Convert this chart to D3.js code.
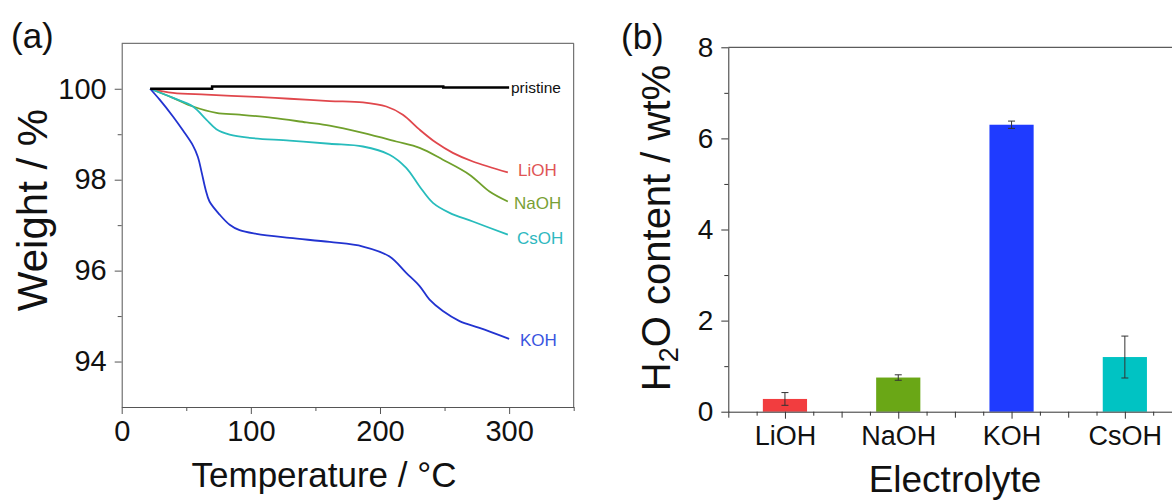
<!DOCTYPE html>
<html>
<head>
<meta charset="utf-8">
<script src="https://cdn.jsdelivr.net/npm/d3@7"></script>
<style>
  html, body { margin: 0; padding: 0; background: #fff; }
  svg { display: block; font-family: "Liberation Sans", Arial, sans-serif; }
</style>
</head>
<body>
<svg id="chart" width="1172" height="500"></svg>
<script>
// ---------- Panel (a): TGA curves (temperature °C, weight %) ----------
const pristine = [[22,100.0],[69,100.0],[70,100.05],[248,100.05],[249,100.03],[300,100.03]];
const lioh = [[22,100.0],[39.7,99.91],[65.5,99.87],[104.3,99.82],[130,99.78],[161,99.73],[186.8,99.70],[204.9,99.61],[217.7,99.43],[230.7,99.10],[243.6,98.81],[256.4,98.59],[271.9,98.40],[299,98.16]];
const naoh = [[22,100.0],[39.7,99.80],[55.2,99.61],[73.3,99.47],[91.3,99.43],[117,99.36],[143,99.26],[161,99.19],[186.8,99.03],[212.6,98.84],[230.7,98.70],[248.7,98.44],[269.3,98.11],[284.8,97.74],[299,97.52]];
const csoh = [[22,100.0],[39.7,99.80],[55.2,99.61],[65.5,99.32],[73.3,99.11],[83.6,98.99],[99,98.92],[130,98.86],[161,98.79],[186.8,98.73],[207.4,98.55],[220.3,98.26],[230.7,97.85],[241,97.49],[253.9,97.27],[271.9,97.08],[299,96.79]];
const koh = [[22,100.0],[29.4,99.76],[39.7,99.39],[47.5,99.08],[55.2,98.75],[59,98.50],[62,98.15],[65,97.78],[68,97.52],[75.9,97.23],[83.6,97.01],[91.3,96.89],[104.3,96.81],[130,96.72],[161,96.63],[186.8,96.53],[207.4,96.31],[220.3,95.95],[230.7,95.66],[238.4,95.36],[248.7,95.11],[261.6,94.89],[277,94.74],[300,94.50]];
const seriesNames = ["pristine","LiOH","NaOH","CsOH","KOH"];
const xTicksA = [0,100,200,300];
const yTicksA = [94,96,98,100];

// ---------- Panel (b): H2O content bars ----------
const electrolytes = ["LiOH","NaOH","KOH","CsOH"];
const h2oContent = [0.28, 0.75, 6.30, 1.20];
const h2oError = [0.14, 0.06, 0.08, 0.46];
const yTicksB = [0,2,4,6,8];

const svg = d3.select("#chart");
const axisColor = "#555";

// ================= Panel (a) =================
const xA = d3.scaleLinear().domain([0,350]).range([121.7,573.7]);
const yA = d3.scaleLinear().domain([93,101]).range([407,43.3]);
const gA = svg.append("g");

gA.append("line").attr("x1",xA(0)).attr("x2",xA(350)).attr("y1",yA(101)).attr("y2",yA(101)).attr("stroke",axisColor).attr("stroke-width",1);
gA.append("line").attr("x1",xA(350)).attr("x2",xA(350)).attr("y1",yA(101)).attr("y2",yA(93)).attr("stroke",axisColor).attr("stroke-width",1);

const axBA = gA.append("g").attr("transform",`translate(0,${yA(93)})`)
  .call(d3.axisBottom(xA).tickValues(xTicksA).tickSize(7).tickPadding(6).tickSizeOuter(0));
gA.append("g").attr("transform",`translate(0,${yA(93)})`)
  .call(d3.axisBottom(xA).tickValues([50,150,250,350]).tickSize(4).tickFormat("").tickSizeOuter(0))
  .call(g=>g.select(".domain").remove());
const axLA = gA.append("g").attr("transform",`translate(${xA(0)},0)`)
  .call(d3.axisLeft(yA).tickValues(yTicksA).tickSize(7).tickPadding(8).tickSizeOuter(0));
gA.append("g").attr("transform",`translate(${xA(0)},0)`)
  .call(d3.axisLeft(yA).tickValues([95,97,99]).tickSize(4).tickFormat("").tickSizeOuter(0))
  .call(g=>g.select(".domain").remove());

gA.selectAll(".domain, .tick line").attr("stroke",axisColor);
axBA.selectAll("text").attr("font-size",29).attr("fill","#111").attr("font-family","Liberation Sans, Arial");
axLA.selectAll("text").attr("font-size",29).attr("fill","#111").attr("font-family","Liberation Sans, Arial");

const lineA = d3.line().x(d=>xA(d[0])).y(d=>yA(d[1])).curve(d3.curveCatmullRom.alpha(0.5));
const curves = [
  {name:"LiOH", data:lioh, color:"#e0474c", label:"#e05555", w:1.8},
  {name:"NaOH", data:naoh, color:"#70a02c", label:"#78a035", w:1.8},
  {name:"CsOH", data:csoh, color:"#27bcbc", label:"#2fb8c0", w:1.8},
  {name:"KOH", data:koh, color:"#2233d0", label:"#3a55e0", w:1.8}
];
curves.forEach(c=>{
  gA.append("path").datum(c.data).attr("d",lineA).attr("fill","none").attr("stroke",c.color).attr("stroke-width",c.w);
});
gA.append("path").datum(pristine).attr("d",d3.line().x(d=>xA(d[0])).y(d=>yA(d[1])).curve(d3.curveStepAfter))
  .attr("fill","none").attr("stroke","#000").attr("stroke-width",2.5);

const labelPos = {pristine:[511,93], LiOH:[518,176], NaOH:[514,209], CsOH:[517,244], KOH:[520,346]};
gA.append("text").attr("x",labelPos.pristine[0]).attr("y",labelPos.pristine[1]).attr("font-size",15.5).attr("fill","#111").text(seriesNames[0]);
curves.forEach(c=>{
  gA.append("text").attr("x",labelPos[c.name][0]).attr("y",labelPos[c.name][1]).attr("font-size",17).attr("fill",c.label).text(c.name);
});

gA.append("text").attr("x",324).attr("y",487).attr("text-anchor","middle").attr("font-size",35).attr("fill","#111").text("Temperature / °C");
gA.append("text").attr("transform","translate(47,210) rotate(-90)").attr("text-anchor","middle").attr("font-size",42).attr("fill","#111").text("Weight / %");
gA.append("text").attr("x",11).attr("y",48).attr("font-size",35).attr("fill","#111").text("(a)");

// ================= Panel (b) =================
const xB = d3.scaleLinear().domain([0.5,4.5]).range([728.3,1181.5]);
const yB = d3.scaleLinear().domain([0,8]).range([411.7,47.3]);
const gB = svg.append("g");

gB.append("line").attr("x1",xB(0.5)).attr("x2",xB(4.5)).attr("y1",yB(8)).attr("y2",yB(8)).attr("stroke","#333").attr("stroke-width",1);

const bw = 0.39;
gB.selectAll("rect.bar").data(electrolytes).enter().append("rect")
  .attr("class","bar")
  .attr("x",(d,i)=>xB(i+1-bw/2))
  .attr("width",(d,i)=>xB(i+1+bw/2)-xB(i+1-bw/2))
  .attr("y",(d,i)=>yB(h2oContent[i]))
  .attr("height",(d,i)=>yB(0)-yB(h2oContent[i]))
  .attr("fill",(d,i)=>["#f23d3f","#6aa716","#1f3bff","#00c3c3"][i]);

electrolytes.forEach((d,i)=>{
  const cx = xB(i+1), hi = yB(h2oContent[i]+h2oError[i]), lo = yB(h2oContent[i]-h2oError[i]);
  gB.append("line").attr("x1",cx).attr("x2",cx).attr("y1",hi).attr("y2",lo).attr("stroke","#333").attr("stroke-width",1);
  [hi,lo].forEach(y=>gB.append("line").attr("x1",cx-3.5).attr("x2",cx+3.5).attr("y1",y).attr("y2",y).attr("stroke","#333").attr("stroke-width",1));
});

const axBB = gB.append("g").attr("transform",`translate(0,${yB(0)})`)
  .call(d3.axisBottom(xB).tickValues([1,2,3,4]).tickSize(7).tickPadding(7).tickSizeOuter(0).tickFormat((d)=>electrolytes[d-1]));
gB.append("g").attr("transform",`translate(0,${yB(0)})`)
  .call(d3.axisBottom(xB).tickValues([0.5,1.5,2.5,3.5]).tickSize(6).tickFormat("").tickSizeOuter(0))
  .call(g=>g.select(".domain").remove());
gB.append("g").attr("transform",`translate(0,${yB(0)})`)
  .call(d3.axisBottom(xB).tickValues([0.75,1.25,1.75,2.25,2.75,3.25,3.75,4.25]).tickSize(4).tickFormat("").tickSizeOuter(0))
  .call(g=>g.select(".domain").remove());
const axLB = gB.append("g").attr("transform",`translate(${xB(0.5)},0)`)
  .call(d3.axisLeft(yB).tickValues(yTicksB).tickSize(7).tickPadding(8).tickSizeOuter(0));
gB.append("g").attr("transform",`translate(${xB(0.5)},0)`)
  .call(d3.axisLeft(yB).tickValues([1,3,5,7]).tickSize(4).tickFormat("").tickSizeOuter(0))
  .call(g=>g.select(".domain").remove());
gB.selectAll(".domain, .tick line").attr("stroke","#333");
axBB.selectAll("text").attr("font-size",27).attr("fill","#111").attr("font-family","Liberation Sans, Arial");
axLB.selectAll("text").attr("font-size",28).attr("fill","#111").attr("font-family","Liberation Sans, Arial");

gB.append("text").attr("x",955).attr("y",492).attr("text-anchor","middle").attr("font-size",37).attr("fill","#111").text("Electrolyte");
const yl = gB.append("text").attr("transform","translate(670,228) rotate(-90)").attr("text-anchor","middle").attr("font-size",40).attr("fill","#111");
yl.append("tspan").text("H");
yl.append("tspan").attr("font-size",27).attr("dy",8).text("2");
yl.append("tspan").attr("dy",-8).text("O content / wt%");
gB.append("text").attr("x",621).attr("y",49).attr("font-size",35).attr("fill","#111").text("(b)");
</script>
</body>
</html>
